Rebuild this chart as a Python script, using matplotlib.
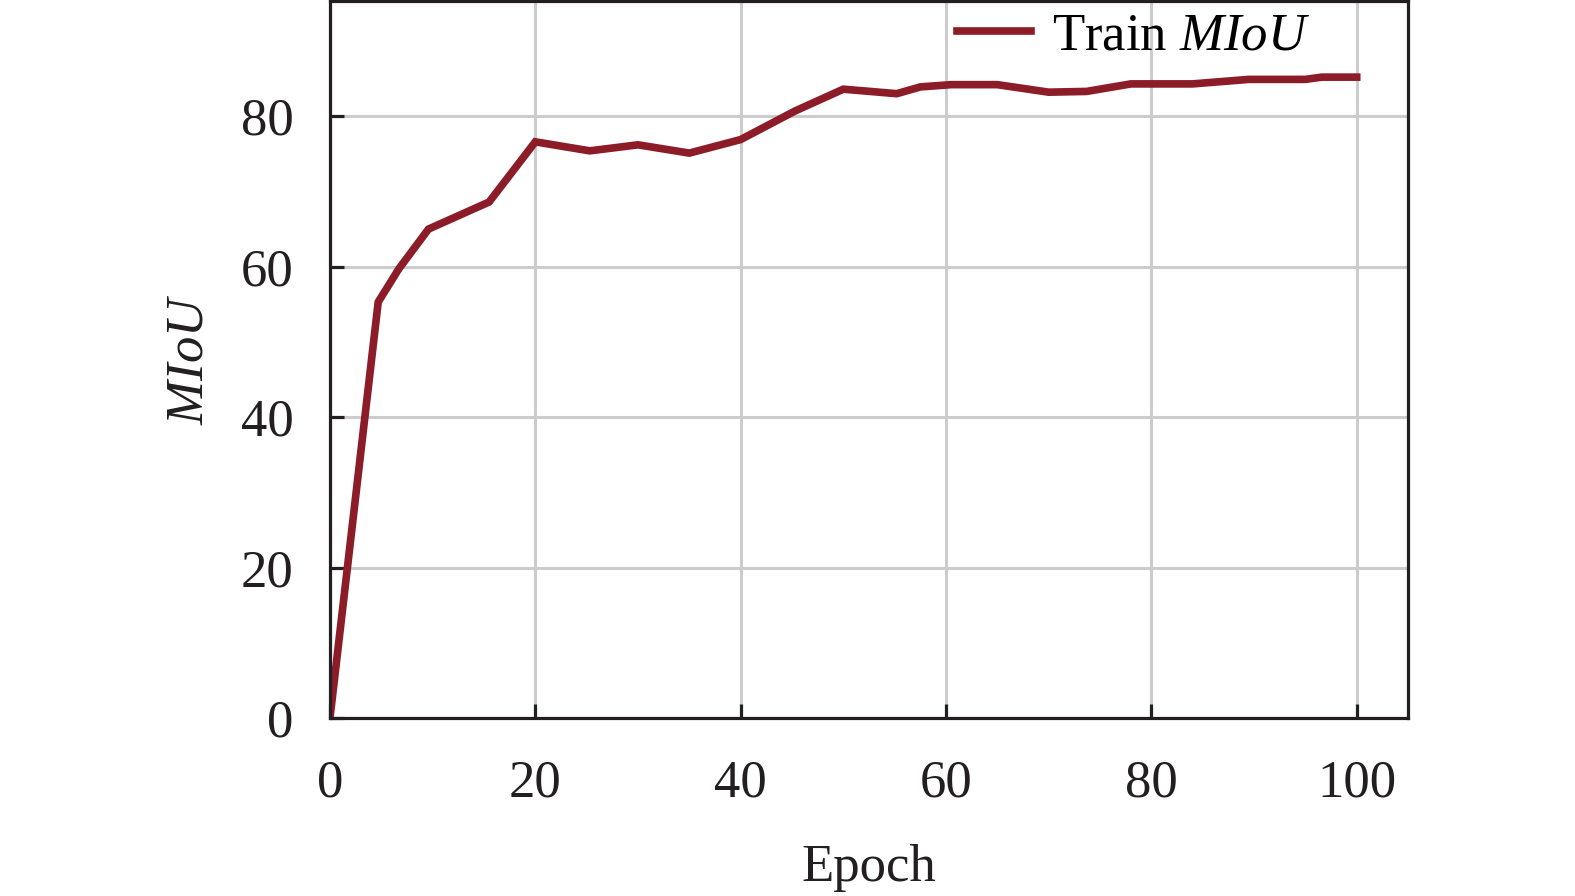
import matplotlib
matplotlib.use("Agg")
import matplotlib.pyplot as plt

epochs = [0, 4.7, 6.7, 9.6, 15.5, 20, 25.3, 30, 35, 40, 45.3, 50, 55.2, 57.5,
          60.5, 65, 70, 73.7, 78, 84, 89.5, 95, 96.6, 100]
miou = [0, 55.3, 59.7, 65.0, 68.6, 76.6, 75.4, 76.2, 75.1, 76.9, 80.7, 83.6,
        83.0, 83.9, 84.2, 84.2, 83.2, 83.3, 84.3, 84.3, 84.9, 84.9, 85.2, 85.2]
xticks = [0, 20, 40, 60, 80, 100]
yticks = [0, 20, 40, 60, 80]

plt.rcParams['font.family'] = ['Liberation Serif', 'DejaVu Serif']
plt.rcParams['mathtext.fontset'] = 'custom'
plt.rcParams['mathtext.rm'] = 'Liberation Serif'
plt.rcParams['mathtext.it'] = 'Liberation Serif:italic'

fig = plt.figure(figsize=(15.75, 8.96), dpi=100)
ax = fig.add_axes([0.2095, 0.1987, 0.6845, 0.8])

ax.plot(epochs, miou, color='#8c1c28', lw=5.5, solid_joinstyle='miter',
        label=r'Train $\mathit{MIoU}$')
ax.set_xlim(0, 105)
ax.set_ylim(0, 95.3)
ax.set_xticks(xticks)
ax.set_yticks(yticks)
ax.grid(True, color='#cccccc', lw=2.2)
ax.set_axisbelow(True)
for s in ax.spines.values():
    s.set_linewidth(2.3)
    s.set_color('#231f20')
ax.tick_params(direction='in', length=10, width=2.3, labelsize=38,
               colors='#231f20')
ax.tick_params(axis='y', pad=26)
ax.tick_params(axis='x', pad=30)
ax.set_xlabel('Epoch', fontsize=38, labelpad=26, color='#231f20')
ax.set_ylabel(r'$\mathit{MIoU}$', fontsize=38, labelpad=20, color='#231f20')
ax.legend(loc='upper right', bbox_to_anchor=(0.909, 0.984), frameon=False,
          fontsize=38, handlelength=1.4, handletextpad=0.4,
          borderaxespad=0, borderpad=0)

fig.savefig('out.png', dpi=100)
